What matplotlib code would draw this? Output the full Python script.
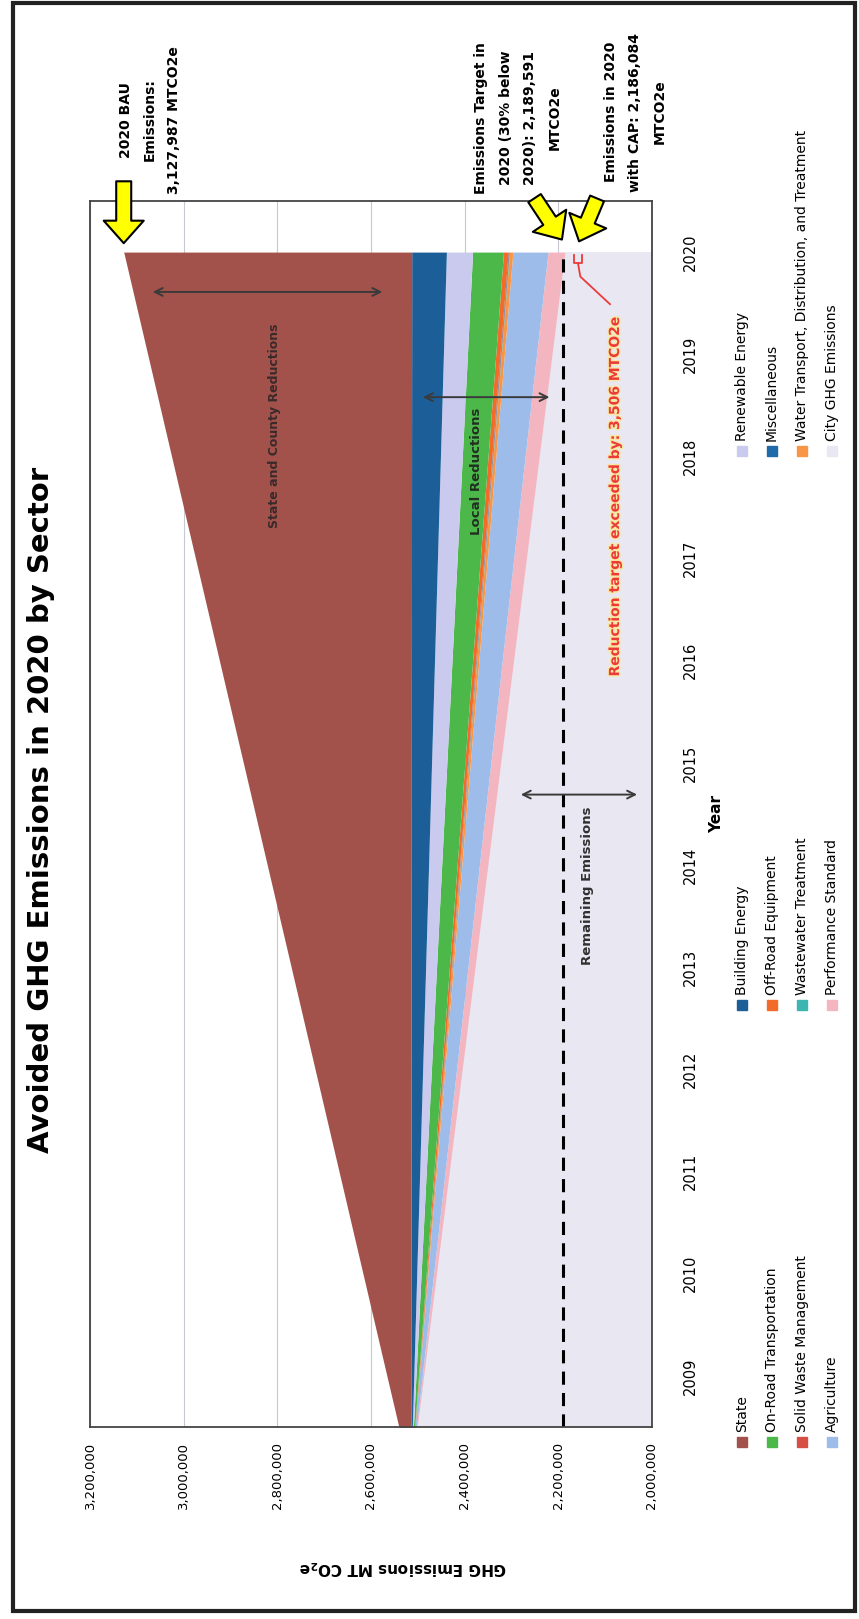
import matplotlib
matplotlib.use('Agg')
import matplotlib.pyplot as plt
import matplotlib.patheffects as pe
from matplotlib.patches import Rectangle
import numpy as np

plt.rcParams['font.family'] = ['DejaVu Sans']

W, H = 859, 1619

# data, stacked from the bottom up
years_pts = [2008, 2020]
year_ticks = list(range(2009, 2021))
city_emissions = [2515000, 2186084]
bau_2020 = 3127987
target_2020 = 2189591

sectors = ['Performance Standard', 'Agriculture',
           'Water Transport, Distribution, and Treatment', 'Wastewater Treatment',
           'Solid Waste Management', 'Miscellaneous', 'Off-Road Equipment',
           'On-Road Transportation', 'Renewable Energy', 'Building Energy']
reduction_2020 = [36000, 75000, 7000, 1000, 1000, 1000, 10000, 66000, 56000, 74000]

colors = {
    'State': '#A3514B',
    'Building Energy': '#1B5E98',
    'Renewable Energy': '#CACAEE',
    'On-Road Transportation': '#4DB84A',
    'Off-Road Equipment': '#F26B2B',
    'Miscellaneous': '#1F6AA8',
    'Solid Waste Management': '#D64F44',
    'Wastewater Treatment': '#3DB5B0',
    'Water Transport, Distribution, and Treatment': '#F79646',
    'Agriculture': '#9DBCEA',
    'Performance Standard': '#F3B5C0',
    'City GHG Emissions': '#E9E7F1',
}

legend_rows = [['State', 'Building Energy', 'Renewable Energy'],
               ['On-Road Transportation', 'Off-Road Equipment', 'Miscellaneous'],
               ['Solid Waste Management', 'Wastewater Treatment',
                'Water Transport, Distribution, and Treatment'],
               ['Agriculture', 'Performance Standard', 'City GHG Emissions']]


def fx(px):
    return px / W


def fy(py):
    return 1 - py / H


fig = plt.figure(figsize=(W / 100, H / 100), dpi=100)
fig.patches.append(Rectangle((fx(13), fy(1611)), fx(855) - fx(13), fy(3) - fy(1611),
                             transform=fig.transFigure, fill=False, ec='#222222', lw=3))

ax = fig.add_axes([fx(90), fy(1427), fx(652) - fx(90), fy(201) - fy(1427)])

# stacked wedges
lower = np.array(city_emissions, dtype=float)
ax.fill_betweenx(years_pts, 0, lower, color=colors['City GHG Emissions'], lw=0)
for name, val in zip(sectors, reduction_2020):
    upper = lower + np.array([0, val])
    ax.fill_betweenx(years_pts, lower, upper, color=colors[name], lw=0)
    lower = upper
ax.fill_betweenx(years_pts, lower, [city_emissions[0], bau_2020], color=colors['State'], lw=0)

ax.set_xlim(3200000, 2000000)
ax.set_ylim(2008.5, 2020.5)
xt = np.arange(2000000, 3200001, 200000)
ax.set_xticks(xt)
ax.set_xticklabels(['{:,}'.format(v) for v in xt], rotation=90, fontsize=9.5)
ax.set_yticks(year_ticks)
ax.set_yticklabels(year_ticks, rotation=90, fontsize=10.5, va='center')
ax.yaxis.tick_right()
ax.tick_params(length=0, pad=11)
ax.tick_params(axis='y', pad=22)
ax.grid(axis='x', color='#c8c8d0', lw=0.8)
ax.set_axisbelow(True)
for s in ax.spines.values():
    s.set_color('#444444')
    s.set_linewidth(1.3)

ax.set_xlabel(r'GHG Emissions MT CO$_\mathbf{2}$e', rotation=180, fontsize=11,
              fontweight='bold')
ax.xaxis.set_label_coords(0.557, -0.107)
ax.yaxis.set_label_position('right')
ax.set_ylabel('Year', rotation=90, fontsize=11, fontweight='bold', labelpad=8)

# target line
ax.plot([target_2020, target_2020], [2008.5, 2020], ls=(0, (4.3, 2.7)), color='black', lw=2.2)

# range arrows and labels
arr = dict(arrowstyle='<->', color='#3a3a3a', lw=1.4, mutation_scale=14)
ax.annotate('', xy=(3072000, 2019.61), xytext=(2570000, 2019.61), arrowprops=arr)
ax.annotate('', xy=(2495000, 2018.58), xytext=(2213000, 2018.58), arrowprops=arr)
ax.annotate('', xy=(2286000, 2014.69), xytext=(2026000, 2014.69), arrowprops=arr)
ax.text(2805000, 2018.3, 'State and County Reductions', rotation=90, ha='center',
        va='center', fontsize=9, fontweight='bold', color='#3a2a2a')
ax.text(2374000, 2017.85, 'Local Reductions', rotation=90, ha='center', va='center',
        fontsize=9.5, fontweight='bold', color='#203020')
ax.text(2137000, 2013.8, 'Remaining Emissions', rotation=90, ha='center', va='center',
        fontsize=9.5, fontweight='bold', color='#303030')
ax.text(2079000, 2017.61, 'Reduction target exceeded by: 3,506 MTCO2e', rotation=90,
        ha='center', va='center', fontsize=10, fontweight='bold', color='#EC3A3A',
        path_effects=[pe.withStroke(linewidth=2, foreground='#F8E7A0')])
ax.plot([2089700, 2153000, 2158000], [2019.49, 2019.76, 2019.89], color='#EC3A3A', lw=1.3,
        clip_on=False)
ax.plot([2166000, 2166000, 2150000, 2150000], [2019.97, 2019.89, 2019.89, 2019.97],
        color='#EC3A3A', lw=1.3, clip_on=False)

# yellow callout arrows
yarr = dict(arrowstyle='simple,head_width=1.6,head_length=0.9,tail_width=0.6',
            fc='#FFFF00', ec='black', lw=1.5, mutation_scale=18)
ax.annotate('', xy=(bau_2020, 2020.06), xytext=(bau_2020, 2020.72), arrowprops=yarr,
            annotation_clip=False)
ax.annotate('', xy=(2189000, 2020.1), xytext=(2254000, 2020.55), arrowprops=yarr,
            annotation_clip=False)
ax.annotate('', xy=(2158000, 2020.08), xytext=(2115000, 2020.55), arrowprops=yarr,
            annotation_clip=False)

# callout texts
fig.text(fx(150), fy(120), '2020 BAU\nEmissions:\n3,127,987 MTCO2e', rotation=90,
         ha='center', va='center', multialignment='center', fontsize=10,
         fontweight='bold', linespacing=1.95)
fig.text(fx(518), fy(118), 'Emissions Target in\n2020 (30% below\n2020): 2,189,591\nMTCO2e',
         rotation=90, ha='center', va='center', multialignment='center', fontsize=10,
         fontweight='bold', linespacing=1.95)
fig.text(fx(635), fy(112), 'Emissions in 2020\nwith CAP: 2,186,084\nMTCO2e', rotation=90,
         ha='center', va='center', multialignment='center', fontsize=10,
         fontweight='bold', linespacing=1.95)

# title
fig.text(fx(41), fy(810), 'Avoided GHG Emissions in 2020 by Sector', rotation=90,
         ha='center', va='center', fontsize=21, fontweight='bold')

# legend drawn by hand (rotated)
row_x = [742, 772, 802, 832]
col_y = [1442, 1005, 451]
for rx, row in zip(row_x, legend_rows):
    for cy, name in zip(col_y, row):
        fig.patches.append(Rectangle((fx(rx - 5), fy(cy + 5)), 10 / W, 10 / H,
                                     transform=fig.transFigure, color=colors[name]))
        fig.text(fx(rx), fy(cy - 10), name, rotation=90, ha='center', va='bottom',
                 fontsize=10)

fig.savefig('out.png', dpi=100)
